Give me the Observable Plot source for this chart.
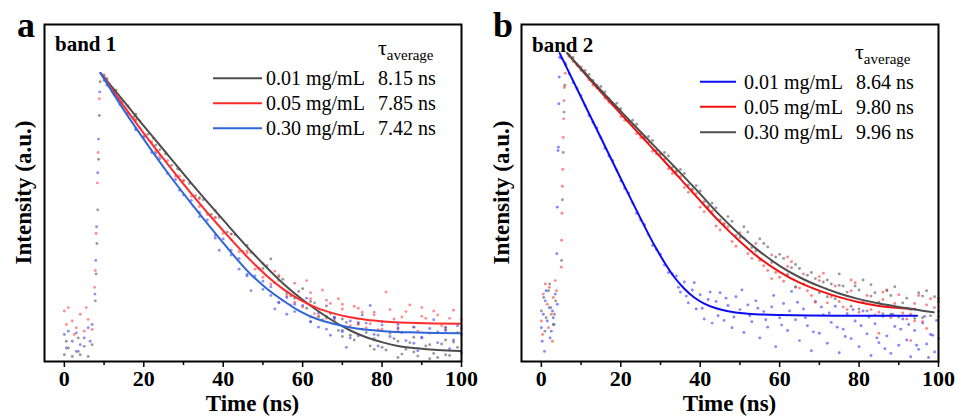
<!DOCTYPE html>
<html><head><meta charset="utf-8">
<script src="https://cdn.jsdelivr.net/npm/d3@7"></script>
<script src="https://cdn.jsdelivr.net/npm/@observablehq/plot@0.6"></script>
<style>
body{margin:0;background:#fff;}
#wrap{display:flex;width:957px;height:416px;overflow:hidden;}
#wrap svg{display:block;}
</style></head><body><div id="wrap"></div>
<script>
// ---------- tick labels / text ----------
const xTicks = [0, 20, 40, 60, 80, 100];
const xMinorTicks = [10, 30, 50, 70, 90];
const concLabels = ["0.01 mg/mL", "0.05 mg/mL", "0.30 mg/mL"];
const tauA = ["8.15 ns", "7.85 ns", "7.42 ns"];
const tauB = ["8.64 ns", "9.80 ns", "9.96 ns"];

// ---------- panel a: fitted curves [time ns, intensity a.u.] ----------
const fitA_001 = [[9.1,85.6],[15,77.2],[20.2,69.6],[26,61.4],[32.7,51.9],[40,42.0],[47.9,31.6],[55.2,23.0],[60,18.3],[63.6,15.2],[68,11.8],[72,9.2],[76,7.2],[80.4,5.6],[84,4.6],[88.8,3.9],[94,3.4],[99.7,3.1]];
const fitA_005 = [[9.1,85.6],[15,75.8],[20.2,67.4],[26,58.6],[32.7,48.8],[40,38.8],[46.9,30.0],[51,25.4],[55.2,21.4],[59.5,18.2],[63.6,15.9],[68,14.2],[72,13.1],[76,12.4],[80.4,11.9],[88.8,11.4],[99.7,11.2]];
const fitA_030 = [[9.1,85.6],[15,74.6],[20.2,65.6],[26,56.0],[32.7,45.8],[40,35.2],[46.9,25.9],[51,21.6],[55.2,18.0],[59,15.1],[63.6,12.6],[68,11.1],[72,10.1],[80.4,9.0],[88.8,8.6],[99.7,8.4]];

// ---------- panel a: measured points ----------
const dotsA_001 = [[0,2],[1,4],[2,1.5],[3,3],[4,2],[5,4.5],[6,1.5],[7,5],[0.5,6],[3.5,7],
 [7.8,18],[8,26],[8.2,35],[8.4,45],[8.6,60],[8.8,73],[9,83],
 [10,85],[11.5,81.5],[13,80.5],[14.5,77],[16,75.8],[17.5,72.6],[19,71.4],[21,67.4],[22.5,66.2],[24,62.8],[25.5,61.6],[27,58.2],[28.5,57.2],[30,53.6],[31.5,52.8],[33,49.2],[35,48.0],[37,43.6],[39,42.8],[41,38.4],[43,37.6],[45,32.6],[47,32.4],[49,27.6],[51,28.4],[53,23.4],[55,24.4],[57,19.4],[59,20.8],[61,15.8],[63,17.4],[65,12.4],[67,14.2],[69,9.2],[71,11.6],[73,6.4],[75,9.6],[77,4.6],[79,7.8],[81,3.4],[83,6.8],[85,2.2],[87,5.6],[89,1.6],[91,4.6],[93,2.4],[95,5.2],[97,1.8],[99,4.2],[62,13.2],[66,16.5],[70,7.4],[74,11.2],[78,3.6],[84,1.2],[88,7.2],[92,0.8],[96,6.4],[100,2.6],
 [10.7,84.0],[12.5,79.8],[18,73.4],[23,64.2],[29,57.0],[34,48.6],[38,44.8],[42,37.8],[46,34.4],[50,27.6],[54,25.2],[58,18.8],[62,17.8],[64,13.2],[68,13.0],[72,7.8],[76,8.6],[80,4.2],[84,6.0],[88,2.8],[92,5.0],[96,2.0],[52,30.4],[56,20.2],[60,21.6],[70,12.6],[86,3.6],[94,1.2],[98,5.8],[82,8.4]];
const dotsA_005 = [[0,15],[1,16],[2,12],[3,10],[4,14],[5,9],[6,12.5],[0.5,11],[2.5,8],[5.5,16],[7,9.5],
 [7.6,22],[7.8,27],[8,38],[8.3,53],[8.5,62],[8.8,78],
 [10,84.6],[12,80.2],[14,78.0],[16,73.4],[18,71.6],[20,66.8],[22,65.2],[24,60.8],[26,59.6],[28,55.0],[30,53.8],[32,49.0],[34,48.2],[36,43.6],[38,42.8],[40,38.0],[42,37.8],[44,32.6],[46,32.8],[48,27.4],[50,29.0],[52,23.0],[54,25.6],[56,19.4],[58,23.2],[60,16.2],[62,20.4],[64,13.6],[66,18.2],[68,12.2],[70,17.0],[72,10.6],[74,15.8],[76,10.0],[78,14.6],[80,9.6],[81,20.6],[82,15.4],[84,9.0],[86,14.8],[88,10.2],[90,16.0],[92,8.4],[94,13.8],[96,9.4],[98,15.2],[100,12.4],[57,16.8],[61,24.0],[65,21.2],[69,18.6],[73,16.4],[77,11.2],[83,12.6],[87,16.8],[91,12.8],[95,10.6],[99,8.6],
 [10.7,83.6],[12.5,79.2],[18,71.8],[23,62.4],[29,55.0],[34,46.0],[38,42.6],[42,36.2],[46,32.2],[50,25.0],[54,24.0],[58,17.6],[62,18.6],[66,12.8],[70,15.6],[74,11.0],[78,13.8],[84,10.0],[90,13.4],[96,10.2],[53,26.8],[63,14.2],[67,17.2],[75,14.6],[79,9.4],[85,13.2],[89,9.0],[93,15.0],[97,12.8],[100,9.8]];
const dotsA_030 = [[0,8],[1,9],[2,6],[3,8.5],[4,5],[5,7],[6,10],[7,11],[0.5,4],[3.5,3],[6.5,6],
 [7.7,20],[7.9,30],[8.1,40],[8.4,56],[8.6,66],[8.9,80],
 [10,83.4],[12,80.8],[14,76.2],[16,73.8],[18,69.0],[20,66.6],[22,62.0],[24,60.2],[26,55.8],[28,54.0],[30,49.4],[32,47.8],[34,43.0],[36,42.0],[38,37.4],[40,36.4],[42,31.6],[44,30.6],[46,25.8],[48,25.4],[50,21.4],[52,22.2],[54,17.6],[56,19.0],[58,14.8],[60,16.6],[62,11.8],[64,14.4],[66,9.6],[68,13.2],[70,8.8],[72,12.0],[74,7.6],[76,11.4],[78,6.8],[80,10.8],[82,7.4],[84,11.0],[86,6.2],[88,10.2],[90,7.0],[92,9.8],[94,5.6],[96,9.2],[98,6.4],[100,8.0],[39,33.0],[47,21.0],[53,15.6],[61,18.8],[67,7.8],[71,4.2],[75,13.8],[79,4.6],[85,8.6],[89,3.2],[93,12.4],[97,3.8],[77,16.6],
 [10.7,82.0],[12.5,79.8],[18,68.8],[23,61.8],[29,50.8],[34,44.2],[38,36.6],[42,33.0],[46,25.4],[50,23.8],[54,17.4],[58,17.0],[62,11.8],[66,13.4],[70,9.2],[74,11.6],[78,8.0],[84,9.8],[90,7.2],[96,10.0],[44,27.4],[52,19.6],[56,14.0],[64,10.2],[68,12.8],[72,7.0],[80,11.8],[88,5.4],[94,8.8],[99,10.6]];

// ---------- panel b: fitted curves ----------
const fitB_001 = [[4.6,91.5],[12,73.6],[20.2,53.8],[25,42.4],[28.5,34.4],[31,29.4],[33.5,25.0],[36,21.6],[38.5,19.0],[41,17.2],[44,15.8],[47,14.9],[52,14.2],[60,13.8],[75,13.6],[94.6,13.6]];
const fitB_005 = [[6.5,91.5],[13,82.6],[20.2,73.2],[26,65.8],[32.7,57.2],[39,49.0],[45.1,41.2],[50,35.6],[55,30.6],[60,26.6],[65,23.4],[70.3,20.9],[75,19.1],[80,17.6],[85,16.5],[90,15.9],[94.2,15.6]];
const fitB_030 = [[6.5,91.5],[13,83.0],[20.2,74.0],[26,66.9],[32.7,58.8],[39,51.0],[45.1,43.2],[50,37.6],[55,32.6],[60,28.4],[65,25.0],[70.3,22.2],[75,20.2],[80,18.5],[85,17.2],[90,16.2],[94,15.4],[98.8,14.6]];

// ---------- panel b: measured points ----------
const dotsB_001 = [[0,10],[0.5,14],[1,18],[1.5,12],[2,16],[2.5,9],[3,13],[3.5,20],[0.2,6],[1.2,21],[2.2,7],[3.2,11],[4,17],[0.8,3],[2.8,15],
 [3.9,32],[4.0,45.8],[4.2,62.6],[4.3,63.6],[4.4,76.5],[4.5,84.4],[4.6,90.3],
 [6,88.6],[8,82.8],[10,78.9],[12,73.0],[14,69.3],[16,63.3],[18,59.6],[20,53.6],[22,50.0],[24,44.0],[26,40.6],[28,34.4],[30,31.8],[32,26.4],[34,25.4],[35,20.6],[36,23.6],[37,17.4],[38,21.2],[39,15.6],[40,19.8],[41,12.6],[42,18.4],[43,11.4],[44,17.8],[45,20.4],[46,12.2],[47,16.6],[48,10.0],[49,19.2],[50,15.4],[51,8.6],[52,16.8],[53,11.8],[54,18.0],[55,7.0],[56,14.8],[57,10.2],[58,16.2],[59,4.4],[60,13.0],[61,17.2],[62,9.2],[63,20.8],[64,12.4],[65,6.2],[66,15.6],[67,10.6],[68,3.2],[69,17.8],[70,8.4],[71,13.8],[72,5.4],[73,11.6],[74,16.4],[75,2.6],[76,9.6],[77,14.2],[78,6.8],[79,12.0],[80,4.4],[81,15.0],[82,8.2],[83,1.8],[84,11.2],[85,5.6],[86,13.4],[87,7.6],[88,2.4],[89,10.4],[90,4.8],[91,12.6],[92,6.4],[93,1.4],[94,9.2],[95,3.6],[96,11.4],[97,5.2],[98,8.0],[99,2.8],[100,6.8],
 [5,90],[7,85.4],[9,81.0],[11,76.0],[13,71.0],[15,66.4],[17,61.0],[19,56.8],[21,51.4],[23,47.0],[25,42.0],[27,37.6],[29,33.2],[31,28.6],[33,26.0],[34.5,22.0],[36.5,19.4],[38.5,23.4],[40.5,15.8],[42.5,20.6],[44.5,13.6],[46.5,18.8],[48.5,13.2],[50.5,21.2],[52.5,13.6],[54.5,15.8],[56.5,12.4],[58.5,19.6],[60.5,10.8],[62.5,15.0],[64.5,17.6],[66.5,13.0],[68.5,8.8],[70.5,16.2],[72.5,14.4],[74.5,10.2],[76.5,7.4],[78.5,15.4],[80.5,10.6],[82.5,13.2],[84.5,7.0],[86.5,3.8],[88.5,14.0],[90.5,9.6],[92.5,11.0],[94.5,4.8],[96.5,13.4],[98.5,7.8],[99.5,12.2],[97.5,1.2]];
const dotsB_005 = [[0,12],[0.5,20],[1,23],[1.5,17],[2,22],[2.5,14],[3,19],[3.5,24],[0.3,8],[1.8,10],[2.8,6],[3.8,21],
 [5.0,28],[5.1,36],[5.2,44],[5.3,52],[5.4,57],[5.5,66.5],[5.6,72],[5.7,77.4],[5.8,81.3],[6.0,85.5],
 [8,89.0],[10,87.4],[12,83.6],[14,82.0],[16,78.2],[18,76.6],[20,72.6],[22,71.4],[24,67.6],[26,66.4],[28,62.4],[30,61.4],[32,57.2],[34,56.2],[36,51.6],[38,50.8],[40,45.8],[42,45.6],[44,40.2],[46,41.0],[48,35.6],[50,38.2],[52,32.0],[54,35.0],[56,28.4],[58,31.6],[60,25.0],[62,28.2],[64,22.0],[66,26.0],[68,19.6],[70,24.0],[72,17.4],[74,22.4],[76,16.2],[78,21.0],[80,14.6],[82,19.6],[84,13.8],[86,18.4],[88,13.0],[90,19.8],[92,12.6],[94,17.2],[96,11.8],[98,18.6],[100,13.4],[55,30.0],[59,26.4],[63,29.6],[67,21.0],[71,26.2],[75,17.8],[79,23.4],[83,15.4],[87,21.2],[91,14.4],[95,19.6],[99,16.0],[85,8.4],[93,6.2],[97,9.8],
 [7,90.6],[9,88.0],[11,85.6],[13,82.0],[15,80.2],[17,77.0],[19,75.4],[21,71.6],[23,70.0],[25,66.4],[27,65.0],[29,61.6],[31,60.0],[33,55.8],[35,54.8],[37,50.2],[39,49.8],[41,44.4],[43,44.6],[45,39.0],[47,40.0],[49,34.2],[51,36.6],[53,30.6],[57,27.0],[61,23.8],[65,21.8],[69,17.6],[73,19.2],[77,15.4],[81,17.6],[85,14.6],[89,17.2],[93,14.0],[97,16.8],[100,18.8],[62,31.0],[70,25.2],[78,24.2],[86,20.6],[94,12.0],[58,24.6]];
const dotsB_030 = [[0,15],[0.6,19],[1.2,13],[1.8,21],[2.4,16],[3,11],[3.6,18],[0.9,9],[2.1,23],[3.3,14],
 [5.1,30],[5.3,48],[5.5,62],[5.7,74],[5.9,82],[6.2,88],
 [8,90.2],[10,86.4],[12,85.2],[14,81.2],[16,80.0],[18,76.2],[20,75.0],[22,71.2],[24,70.4],[26,66.6],[28,65.6],[30,61.8],[32,61.0],[34,56.6],[36,55.8],[38,51.2],[40,50.6],[42,46.0],[44,45.6],[46,40.6],[48,41.6],[50,36.8],[52,38.4],[54,32.8],[56,35.0],[58,29.4],[60,31.8],[62,25.8],[64,28.8],[66,23.0],[68,26.4],[70,20.4],[72,24.2],[74,18.6],[76,22.4],[78,16.4],[80,21.2],[82,15.0],[84,20.4],[86,14.2],[88,19.6],[90,13.2],[92,18.8],[94,12.8],[96,19.4],[98,13.6],[100,17.8],[57,34.0],[61,30.6],[65,27.6],[69,24.6],[73,23.0],[77,20.6],[81,24.2],[85,17.6],[89,22.2],[93,15.4],[97,21.0],[75,26.0],[83,22.8],
 [7,91.0],[9,88.0],[11,86.4],[13,83.4],[15,81.6],[17,78.0],[19,76.6],[21,72.8],[23,71.6],[25,67.6],[27,66.8],[29,62.6],[31,62.0],[33,57.6],[35,57.0],[37,52.4],[39,52.2],[41,47.4],[43,47.0],[45,42.0],[47,43.0],[49,37.4],[51,40.0],[53,33.8],[55,36.4],[59,31.0],[63,27.8],[67,25.6],[71,23.6],[75,22.6],[79,22.4],[83,19.4],[87,21.0],[91,17.4],[95,20.4],[99,19.2],[64,22.2],[72,19.2],[80,15.6],[88,14.0],[96,13.0],[100,14.8]];

const FONT = "'Liberation Serif','Times New Roman',serif";

const panels = [
  {
    letter: "a", band: "band 1", width: 478, marginLeft: 44, marginRight: 17,
    tau: tauA,
    series: [
      {fit: fitA_001, dots: dotsA_001, line: "#4d4d4d", dot: "#5c5c5c"},
      {fit: fitA_005, dots: dotsA_005, line: "#ff2a2a", dot: "#ff4a4a"},
      {fit: fitA_030, dots: dotsA_030, line: "#2f66d8", dot: "#4848f0"}
    ],
    leg: {x1: 213, x2: 262, tx: 266, vx: 378, rows: [78.3, 103.3, 128.3], tauX: 378, tauY: 55, letterX: 17, bandY: 51}
  },
  {
    letter: "b", band: "band 2", width: 479, marginLeft: 43, marginRight: 19,
    tau: tauB,
    series: [
      {fit: fitB_001, dots: dotsB_001, line: "#0b0bf0", dot: "#3c3cff"},
      {fit: fitB_005, dots: dotsB_005, line: "#f01010", dot: "#ff3b3b"},
      {fit: fitB_030, dots: dotsB_030, line: "#4d4d4d", dot: "#5c5c5c"}
    ],
    leg: {x1: 222, x2: 258, tx: 266, vx: 378, rows: [81.7, 106.7, 132.3], tauX: 377, tauY: 59, letterX: 15, bandY: 52}
  }
];

function overlay(p) {
  return () => {
    const g = d3.create("svg:g").attr("font-family", FONT).attr("fill", "#000").attr("text-anchor", "start");
    const L = p.leg;
    const frameL = p.marginLeft, frameR = p.width - p.marginRight;
    g.append("text").attr("x", L.letterX).attr("y", 37).attr("font-size", 36).attr("font-weight", "bold").text(p.letter);
    g.append("text").attr("x", frameL + 11).attr("y", L.bandY).attr("font-size", 21).attr("font-weight", "bold").text(p.band);
    const t = g.append("text").attr("x", L.tauX).attr("y", L.tauY);
    t.append("tspan").attr("font-size", 22).text("τ");
    t.append("tspan").attr("font-size", 15).attr("dy", 5).text("average");
    p.series.forEach((s, i) => {
      const y = L.rows[i];
      g.append("line").attr("x1", L.x1).attr("x2", L.x2).attr("y1", y).attr("y2", y)
        .attr("stroke", s.line).attr("stroke-width", 2);
      g.append("text").attr("x", L.tx).attr("y", y + 7).attr("font-size", 20).text(concLabels[i]);
      g.append("text").attr("x", L.vx).attr("y", y + 7).attr("font-size", 20).text(p.tau[i]);
    });
    g.append("text").attr("x", (frameL + frameR) / 2).attr("y", 411).attr("text-anchor", "middle")
      .attr("font-size", 23).attr("font-weight", "bold").text("Time (ns)");
    g.append("text").attr("transform", `translate(23,${(24 + 361) / 2}) rotate(-90)`)
      .attr("text-anchor", "middle").attr("dominant-baseline", "central")
      .attr("font-size", 23).attr("font-weight", "bold").text("Intensity (a.u.)");
    return g.node();
  };
}

const wrap = document.getElementById("wrap");
for (const p of panels) {
  const marks = [];
  for (const s of p.series) {
    marks.push(Plot.dot(s.dots, {x: d => d[0], y: d => d[1], r: 1.45, fill: s.dot, fillOpacity: 0.62}));
  }
  for (const s of p.series) {
    marks.push(Plot.line(s.fit, {x: d => d[0], y: d => d[1], stroke: s.line, strokeWidth: 2, curve: "monotone-x"}));
  }
  marks.push(Plot.axisX({ticks: xMinorTicks, tickSize: 4, tickFormat: () => "", label: null, strokeWidth: 1.5}));
  marks.push(Plot.axisX({ticks: xTicks, tickSize: 6, tickPadding: 3, label: null, strokeWidth: 1.5,
    fontSize: 22, fontWeight: "bold", fontFamily: FONT}));
  marks.push(Plot.frame({stroke: "#000", strokeWidth: 2}));
  marks.push(overlay(p));
  const chart = Plot.plot({
    width: p.width, height: 416,
    marginLeft: p.marginLeft, marginRight: p.marginRight, marginTop: 24, marginBottom: 55,
    x: {domain: [-5, 100]},
    y: {domain: [0, 100], axis: null},
    style: {fontFamily: FONT, background: "#fff", overflow: "visible"},
    marks
  });
  wrap.appendChild(chart);
}
</script>
</body></html>
